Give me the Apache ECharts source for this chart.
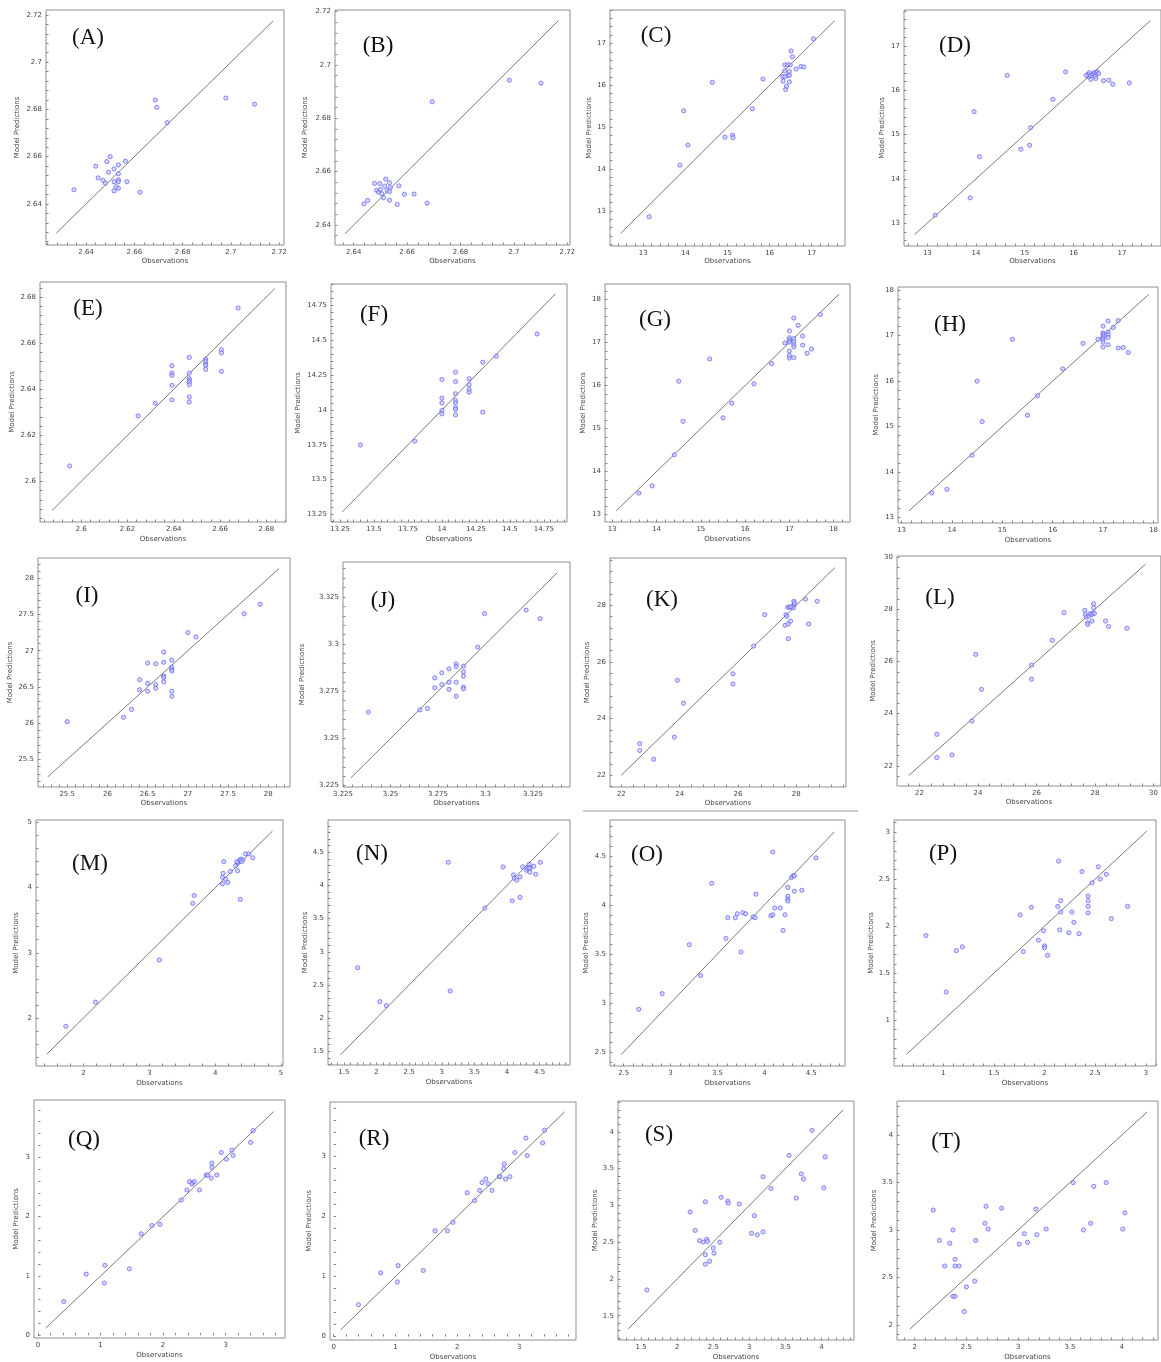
<!DOCTYPE html>
<html><head><meta charset="utf-8">
<script src="https://cdn.jsdelivr.net/npm/echarts@6/dist/echarts.min.js"></script>
<style>html,body{margin:0;padding:0;background:#fff}#c{width:1161px;height:1362px}</style>
</head><body><div id="c"></div>
<script>
// ---------- DATA (Observations vs Model Predictions) ----------
const A_obs  = [2.635,2.644,2.645,2.647,2.648,2.6486,2.6493,2.65,2.6516,2.6516,2.6516,2.6524,2.6534,2.6534,2.6534,2.6534,2.6534,2.6563,2.6569,2.6624,2.6687,2.6693,2.6736,2.6979,2.7098];
const A_pred = [2.646,2.656,2.651,2.65,2.6488,2.6579,2.6534,2.66,2.6548,2.6494,2.6455,2.6473,2.6565,2.6528,2.6502,2.6494,2.6466,2.6581,2.6494,2.6449,2.684,2.6809,2.6744,2.6848,2.6822];
const B_obs  = [2.6438,2.6452,2.6478,2.6486,2.6493,2.6498,2.65,2.6505,2.6512,2.6516,2.652,2.6525,2.6534,2.6537,2.6534,2.6534,2.6563,2.6569,2.659,2.6626,2.6675,2.6694,2.6983,2.7101];
const B_pred = [2.6479,2.6492,2.6556,2.653,2.6523,2.6555,2.6533,2.6517,2.6502,2.6546,2.6572,2.653,2.6558,2.654,2.6525,2.6493,2.6477,2.6547,2.6515,2.6516,2.6482,2.6862,2.6943,2.6932];
const C_obs  = [13.14,13.87,13.96,14.06,14.64,14.94,15.12,15.13,15.59,15.84,16.31,16.32,16.36,16.36,16.38,16.4,16.42,16.44,16.47,16.47,16.49,16.51,16.54,16.47,16.63,16.74,16.81,17.04,16.36];
const C_pred = [12.86,14.09,15.39,14.57,16.07,14.76,14.81,14.75,15.44,16.15,16.21,16.1,16.49,16.35,15.9,15.98,16.49,16.24,16.33,16.08,16.49,16.82,16.68,16.24,16.39,16.45,16.44,17.11,16.21];
const D_obs  = [13.16,13.88,13.96,14.07,14.64,14.92,15.1,15.12,15.58,15.84,16.3,16.32,16.33,16.35,16.36,16.4,16.43,16.45,16.47,16.49,16.46,16.52,16.62,16.73,16.81,17.15,16.26];
const D_pred = [13.18,13.57,15.52,14.5,16.34,14.67,14.76,15.16,15.8,16.42,16.37,16.31,16.4,16.34,16.25,16.37,16.4,16.32,16.41,16.42,16.27,16.38,16.22,16.23,16.14,16.17,16.34];
const E_obs  = [2.595,2.6246,2.632,2.6392,2.6392,2.6392,2.6392,2.6392,2.6467,2.6467,2.6467,2.6467,2.6467,2.6467,2.6467,2.6467,2.6538,2.6538,2.6538,2.6538,2.6538,2.6606,2.6606,2.6606,2.6678];
const E_pred = [2.6067,2.6284,2.6339,2.6502,2.647,2.646,2.6417,2.6354,2.6538,2.647,2.6446,2.6438,2.6431,2.642,2.6366,2.6344,2.653,2.6521,2.6509,2.6503,2.6486,2.6571,2.6557,2.6477,2.6752];
const F_obs  = [13.4,13.8,14,14,14,14,14,14.1,14.1,14.1,14.1,14.1,14.1,14.1,14.1,14.2,14.2,14.2,14.2,14.3,14.3,14.4,14.7];
const F_pred = [13.748,13.776,14.219,14.085,14.051,13.996,13.972,14.271,14.204,14.116,14.068,14.051,14.016,14.004,13.965,14.224,14.181,14.147,14.128,14.343,13.984,14.386,14.546];
const G_obs  = [13.6,13.9,14.4,14.5,14.6,15.2,15.5,15.7,16.2,16.6,16.9,17,17,17,17,17,17,17,17.1,17.1,17.1,17.1,17.1,17.1,17.2,17.3,17.3,17.4,17.5,17.7];
const G_pred = [13.5,13.67,14.39,16.1,15.17,16.62,15.25,15.59,16.04,16.51,16.99,17.27,17.11,17.06,17.01,16.8,16.7,16.64,17.57,17.09,17.01,16.95,16.9,16.65,17.4,17.15,16.94,16.75,16.85,17.65];
const H_obs  = [13.6,13.9,14.4,14.5,14.6,15.2,15.5,15.7,16.2,16.6,16.9,17,17,17,17,17,17,17,17,17.1,17.1,17.1,17.1,17.1,17.2,17.3,17.3,17.4,17.5];
const H_pred = [13.54,13.62,14.37,16,15.11,16.92,15.25,15.68,16.27,16.83,16.92,17.21,17.06,17.03,16.99,16.95,16.91,16.86,16.75,17.32,17.08,17.02,16.96,16.8,17.18,17.33,16.73,16.74,16.63];
const I_obs  = [25.5,26.2,26.3,26.4,26.4,26.5,26.5,26.5,26.6,26.6,26.6,26.7,26.7,26.7,26.7,26.7,26.8,26.8,26.8,26.8,26.8,26.8,27,27.1,27.7,27.9];
const I_pred = [26.02,26.08,26.19,26.6,26.46,26.83,26.55,26.44,26.82,26.53,26.48,26.98,26.84,26.65,26.63,26.57,26.87,26.77,26.74,26.72,26.44,26.37,27.25,27.19,27.51,27.64];
const J_obs  = [3.2383,3.2655,3.2695,3.2733,3.2733,3.277,3.277,3.2808,3.2808,3.2808,3.2846,3.2846,3.2846,3.2846,3.2884,3.2884,3.2884,3.2884,3.2884,3.2959,3.2995,3.3214,3.3288];
const J_pred = [3.264,3.2652,3.2659,3.2821,3.2769,3.2848,3.2786,3.2869,3.2798,3.276,3.2895,3.2881,3.2798,3.2724,3.2883,3.2853,3.283,3.2772,3.2763,3.2984,3.3162,3.318,3.3135];
const K_obs  = [22.63,22.63,23.11,23.82,23.92,24.13,25.83,25.83,26.54,26.92,27.62,27.65,27.68,27.73,27.73,27.81,27.71,27.77,27.86,27.92,27.92,27.94,27.9,27.81,28.32,28.43,28.72];
const K_pred = [23.11,22.87,22.56,23.34,25.35,24.54,25.58,25.22,26.56,27.67,27.29,27.67,27.61,26.82,27.34,27.44,27.93,27.93,27.95,28,28.14,28.08,27.91,27.95,28.22,27.34,28.14];
const L_obs  = [22.59,22.59,23.11,23.79,23.92,24.12,25.83,25.83,26.54,26.94,27.65,27.67,27.7,27.75,27.79,27.83,27.89,27.93,27.98,27.95,27.95,27.9,27.75,28.36,28.46,29.09];
const L_pred = [23.21,22.32,22.42,23.72,26.27,24.93,25.86,25.32,26.81,27.87,27.96,27.8,27.7,27.48,27.74,27.83,27.8,27.85,27.84,28.21,28.06,27.55,27.42,27.55,27.34,27.27];
const M_obs  = [1.73,2.18,3.15,3.66,3.68,4.11,4.11,4.12,4.13,4.16,4.19,4.23,4.34,4.31,4.34,4.37,4.39,4.42,4.38,4.46,4.51,4.57,4.33,4.4];
const M_pred = [1.87,2.24,2.89,3.76,3.88,4.06,4.16,4.22,4.4,4.13,4.08,4.25,4.26,4.34,4.38,4.42,4.44,4.43,3.82,4.52,4.52,4.46,4.4,4.4];
const N_obs  = [1.71,2.05,2.15,3.1,3.13,3.66,3.94,4.08,4.1,4.11,4.15,4.2,4.2,4.24,4.3,4.32,4.34,4.35,4.36,4.41,4.44,4.51,4.34];
const N_pred = [2.76,2.25,2.19,4.35,2.41,3.66,4.28,3.77,4.16,4.11,4.08,3.82,4.13,4.28,4.23,4.26,4.32,4.2,4.27,4.29,4.17,4.35,4.26];
const O_obs  = [2.66,2.91,3.2,3.32,3.44,3.59,3.61,3.69,3.71,3.75,3.77,3.8,3.88,3.9,3.91,4.07,4.09,4.09,4.11,4.17,4.2,4.22,4.25,4.25,4.25,4.25,4.29,4.31,4.32,4.32,4.4,4.55];
const O_pred = [2.935,3.095,3.595,3.28,4.22,3.66,3.87,3.87,3.91,3.52,3.92,3.91,3.88,3.87,4.11,3.89,3.9,4.54,3.97,3.97,3.74,3.9,4.18,4.09,4.06,4.04,4.28,4.3,4.14,4.3,4.15,4.48];
const P_obs  = [0.83,1.03,1.13,1.19,1.76,1.79,1.87,1.94,1.99,2,2,2.03,2.13,2.14,2.15,2.16,2.16,2.24,2.27,2.29,2.34,2.37,2.43,2.43,2.43,2.43,2.47,2.53,2.55,2.61,2.66,2.82];
const P_pred = [1.9,1.3,1.74,1.78,2.12,1.73,2.2,1.85,1.95,1.79,1.77,1.69,2.21,2.69,1.96,2.27,2.15,1.93,2.15,2.04,1.92,2.58,2.32,2.27,2.21,2.14,2.46,2.63,2.5,2.55,2.08,2.21];
const Q_obs  = [0.41,0.77,1.07,1.06,1.46,1.65,1.82,1.95,2.29,2.38,2.42,2.47,2.46,2.5,2.58,2.69,2.71,2.77,2.78,2.78,2.86,2.93,3.01,3.1,3.12,3.4,3.44];
const Q_pred = [0.57,1.03,1.18,0.88,1.12,1.71,1.85,1.87,2.28,2.45,2.59,2.57,2.55,2.59,2.45,2.7,2.7,2.65,2.83,2.9,2.7,3.08,2.97,3.12,3.03,3.25,3.45];
const R_obs  = [0.4,0.76,1.04,1.03,1.45,1.64,1.84,1.93,2.16,2.28,2.36,2.4,2.46,2.5,2.56,2.68,2.69,2.75,2.76,2.78,2.85,2.93,3.11,3.13,3.38,3.41];
const R_pred = [0.53,1.06,1.18,0.91,1.1,1.76,1.76,1.9,2.39,2.26,2.43,2.56,2.62,2.54,2.43,2.66,2.66,2.79,2.87,2.62,2.66,3.06,3.3,3.01,3.22,3.43];
const S_obs  = [1.58,2.18,2.25,2.31,2.36,2.39,2.39,2.39,2.41,2.42,2.45,2.5,2.51,2.59,2.61,2.7,2.71,2.86,3.03,3.07,3.11,3.19,3.19,3.3,3.55,3.65,3.72,3.75,3.87,4.03,4.05];
const S_pred = [1.85,2.91,2.66,2.52,2.5,3.05,2.33,2.2,2.54,2.51,2.24,2.42,2.35,2.5,3.11,3.06,3.03,3.02,2.62,2.86,2.6,3.39,2.64,3.23,3.68,3.1,3.43,3.36,4.02,3.24,3.66];
const T_obs  = [2.18,2.24,2.29,2.34,2.37,2.37,2.39,2.39,2.39,2.43,2.48,2.5,2.58,2.59,2.68,2.69,2.71,2.84,3.01,3.06,3.09,3.17,3.18,3.27,3.53,3.63,3.7,3.73,3.85,4.01,4.03];
const T_pred = [3.21,2.89,2.62,2.86,3,2.3,2.3,2.69,2.62,2.62,2.14,2.4,2.46,2.89,3.07,3.25,3.01,3.23,2.85,2.96,2.87,3.22,2.95,3.01,3.5,3,3.07,3.46,3.5,3.01,3.18];

// 1:1 reference line extent for each panel
const A_line=[2.6277,2.7175], B_line=[2.6367,2.7167], C_line=[12.46,17.55], D_line=[12.74,17.58];
const E_line=[2.5874,2.6837], F_line=[13.268,14.835], G_line=[13.09,18.125], H_line=[13.145,17.905];
const I_line=[25.258,28.133], J_line=[3.2292,3.3377], K_line=[22.0,29.33], L_line=[21.63,29.73];
const M_line=[1.44,4.87], N_line=[1.444,4.796], O_line=[2.474,4.745], P_line=[0.639,3.011];
const Q_line=[0.124,3.77], R_line=[0.114,3.735], S_line=[1.32,4.30], T_line=[1.955,4.245];

// tick labels
const ticks_AB=[2.64,2.66,2.68,2.7,2.72];
const ticks_CD=[13,14,15,16,17];
const ticks_E=[2.6,2.62,2.64,2.66,2.68];
const ticks_F=[13.25,13.5,13.75,14,14.25,14.5,14.75];
const ticks_GH=[13,14,15,16,17,18];
const ticks_I=[25.5,26,26.5,27,27.5,28];
const ticks_J=[3.225,3.25,3.275,3.3,3.325];
const ticks_K=[22,24,26,28];
const ticks_L=[22,24,26,28,30];
const ticks_M=[2,3,4,5];
const ticks_N=[1.5,2,2.5,3,3.5,4,4.5];
const ticks_O=[2.5,3,3.5,4,4.5];
const ticks_P=[1,1.5,2,2.5,3];
const ticks_QR=[0,1,2,3];
const ticks_S=[1.5,2,2.5,3,3.5,4];
const ticks_T=[2,2.5,3,3.5,4];

const panels = {
  A:{obs:A_obs,pred:A_pred,line:A_line,xt:ticks_AB,yt:ticks_AB},
  B:{obs:B_obs,pred:B_pred,line:B_line,xt:ticks_AB,yt:ticks_AB},
  C:{obs:C_obs,pred:C_pred,line:C_line,xt:ticks_CD,yt:ticks_CD},
  D:{obs:D_obs,pred:D_pred,line:D_line,xt:ticks_CD,yt:ticks_CD},
  E:{obs:E_obs,pred:E_pred,line:E_line,xt:ticks_E,yt:ticks_E},
  F:{obs:F_obs,pred:F_pred,line:F_line,xt:ticks_F,yt:ticks_F},
  G:{obs:G_obs,pred:G_pred,line:G_line,xt:ticks_GH,yt:ticks_GH},
  H:{obs:H_obs,pred:H_pred,line:H_line,xt:ticks_GH,yt:ticks_GH},
  I:{obs:I_obs,pred:I_pred,line:I_line,xt:ticks_I,yt:ticks_I},
  J:{obs:J_obs,pred:J_pred,line:J_line,xt:ticks_J,yt:ticks_J},
  K:{obs:K_obs,pred:K_pred,line:K_line,xt:ticks_K,yt:ticks_K},
  L:{obs:L_obs,pred:L_pred,line:L_line,xt:ticks_L,yt:ticks_L},
  M:{obs:M_obs,pred:M_pred,line:M_line,xt:ticks_M,yt:ticks_M},
  N:{obs:N_obs,pred:N_pred,line:N_line,xt:ticks_N,yt:ticks_N},
  O:{obs:O_obs,pred:O_pred,line:O_line,xt:ticks_O,yt:ticks_O},
  P:{obs:P_obs,pred:P_pred,line:P_line,xt:ticks_P,yt:ticks_P},
  Q:{obs:Q_obs,pred:Q_pred,line:Q_line,xt:ticks_QR,yt:ticks_QR},
  R:{obs:R_obs,pred:R_pred,line:R_line,xt:ticks_QR,yt:ticks_QR},
  S:{obs:S_obs,pred:S_pred,line:S_line,xt:ticks_S,yt:ticks_S},
  T:{obs:T_obs,pred:T_pred,line:T_line,xt:ticks_T,yt:ticks_T}
};

// ---------- LAYOUT (pixels / axis extents) ----------
const layout = {
  A:{box:[46,10,284,245],  x:[2.6234,2.722], y:[2.6226,2.7221], tag:[88,38],  yg:25, xg:13},
  B:{box:[335,10,570,245], x:[2.633,2.721],  y:[2.6325,2.7206], tag:[378,46], yg:26, xg:13},
  C:{box:[610,10,845,246], x:[12.21,17.79],  y:[12.16,17.80],   tag:[656,36], yg:17, xg:12},
  D:{box:[904,10,1163,246],x:[12.52,17.80],  y:[12.48,17.82],   tag:[955,46], yg:18, xg:12},
  E:{box:[40,282,286,522], x:[2.5822,2.6885],y:[2.5824,2.6865], tag:[88,309], yg:24, xg:14},
  F:{box:[331,284,567,522],x:[13.184,14.92], y:[13.195,14.905], tag:[374,315],yg:29, xg:14},
  G:{box:[605,284,850,522],x:[12.835,18.37], y:[12.83,18.36],   tag:[655,320],yg:18, xg:14},
  H:{box:[898,287,1158,523],x:[12.93,18.09], y:[12.88,18.07],   tag:[950,325],yg:18, xg:14},
  I:{box:[38,558,290,787], x:[25.137,28.27], y:[25.118,28.28],  tag:[87,596], yg:24, xg:13},
  J:{box:[343,562,570,787],x:[3.225,3.3445], y:[3.2243,3.3435], tag:[383,601],yg:37, xg:13},
  K:{box:[610,558,846,787],x:[21.61,29.71],  y:[21.58,29.67],   tag:[662,600],yg:19, xg:13},
  L:{box:[897,556,1163,786],x:[21.23,30.25], y:[21.23,30.04],   tag:[940,598],yg:20, xg:13},
  M:{box:[36,820,283,1066],x:[1.277,5.03],   y:[1.26,5.04],     tag:[90,864], yg:16, xg:14},
  N:{box:[328,820,570,1065],x:[1.256,4.966], y:[1.294,4.987],   tag:[372,854],yg:18, xg:14},
  O:{box:[610,820,845,1066],x:[2.354,4.86],  y:[2.357,4.867],   tag:[647,855],yg:20, xg:14},
  P:{box:[894,820,1156,1066],x:[0.515,3.10], y:[0.515,3.127],   tag:[943,854],yg:19, xg:14},
  Q:{box:[34,1100,285,1338],x:[-0.065,3.95], y:[-0.045,3.965],  tag:[84,1140],yg:14, xg:14},
  R:{box:[330,1102,576,1340],x:[-0.06,3.92], y:[-0.056,3.90],   tag:[374,1139],yg:17, xg:14},
  S:{box:[618,1101,854,1340],x:[1.18,4.45],  y:[1.17,4.42],     tag:[659,1135],yg:19, xg:14},
  T:{box:[897,1101,1158,1340],x:[1.83,4.35], y:[1.84,4.36],     tag:[946,1142],yg:19, xg:14}
};

function minorTicks(ticks, range){
  const step=(ticks[1]-ticks[0])/5, out=[];
  for(let v=ticks[0]; v>=range[0]-1e-9; v-=step) out.push(+v.toFixed(6));
  for(let v=ticks[0]+step; v<=range[1]+1e-9; v+=step) out.push(+v.toFixed(6));
  return out.sort((a,b)=>a-b);
}
const fmt = v => String(+(+v).toFixed(4));
const FONT='DejaVu Sans';

const grids=[], xAxes=[], yAxes=[], series=[], graphics=[];
Object.keys(panels).forEach((k,i)=>{
  const p=panels[k], L=layout[k], b=L.box;
  grids.push({left:b[0], top:b[1], width:b[2]-b[0], height:b[3]-b[1], show:true,
    borderColor:'#8e8e8e', borderWidth:1, backgroundColor:'transparent'});
  const common = {type:'value', gridIndex:i, splitLine:{show:false}, axisLine:{show:false},
    nameLocation:'middle', nameTextStyle:{fontSize:7, color:'#444', fontFamily:FONT}};
  xAxes.push(Object.assign({}, common, {min:L.x[0], max:L.x[1], name:'Observations', nameGap:L.xg,
    axisTick:{show:true, inside:true, length:2.5, customValues:minorTicks(p.xt,L.x), lineStyle:{color:'#858585',width:1}},
    axisLabel:{customValues:p.xt, fontSize:7, color:'#444', margin:4, fontFamily:FONT, formatter:fmt}}));
  yAxes.push(Object.assign({}, common, {min:L.y[0], max:L.y[1], name:'Model Predictions', nameGap:L.yg,
    axisTick:{show:true, inside:true, length:2.5, customValues:minorTicks(p.yt,L.y), lineStyle:{color:'#858585',width:1}},
    axisLabel:{customValues:p.yt, fontSize:7, color:'#444', margin:4, fontFamily:FONT, formatter:fmt}}));
  series.push({type:'line', xAxisIndex:i, yAxisIndex:i, silent:true, symbol:'none',
    data:[[p.line[0],p.line[0]],[p.line[1],p.line[1]]], lineStyle:{color:'#7a7a7a', width:1}, z:2});
  series.push({type:'scatter', xAxisIndex:i, yAxisIndex:i, symbol:'circle', symbolSize:4.2,
    data:p.obs.map((o,j)=>[o,p.pred[j]]),
    itemStyle:{color:'rgba(195,195,255,0.85)', borderColor:'#6060f2', borderWidth:0.9}, z:3});
  graphics.push({type:'text', x:L.tag[0], y:L.tag[1], z:10,
    style:{text:'('+k+')', fontSize:23, fontFamily:'Liberation Serif', fill:'#111', align:'center', verticalAlign:'middle'}});
});
graphics.push({type:'line', shape:{x1:583,y1:811,x2:858,y2:811}, style:{stroke:'#9a9a9a', lineWidth:1}});

const chart = echarts.init(document.getElementById('c'), null, {renderer:'canvas'});
chart.setOption({animation:false, backgroundColor:'#fff', grid:grids, xAxis:xAxes, yAxis:yAxes, series:series, graphic:graphics});
</script></body></html>
